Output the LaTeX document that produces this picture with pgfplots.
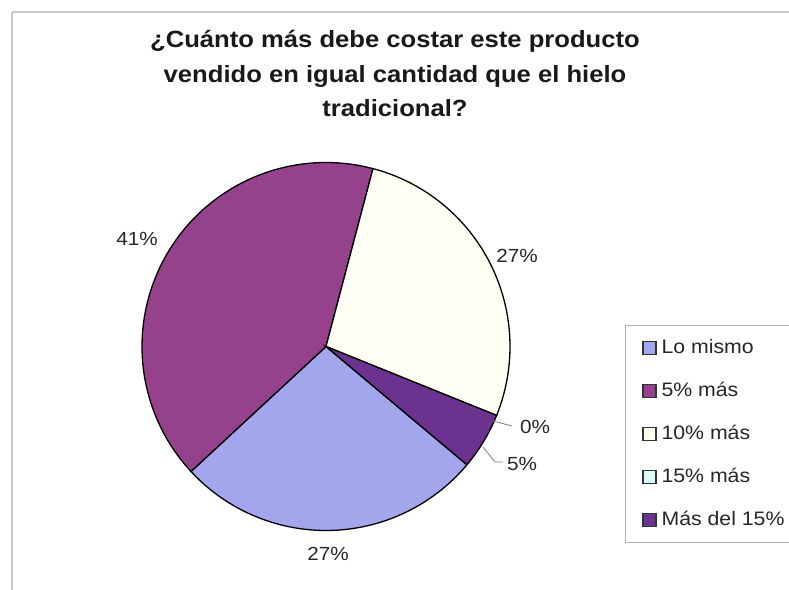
\documentclass[border=0pt]{standalone}
\usepackage{fontspec}
\setmainfont{Liberation Sans}[FakeStretch=1.09]
\usepackage{pgfplots}
\pgfplotsset{compat=1.18}
\definecolor{cA}{HTML}{A3A6EC}
\definecolor{cB}{HTML}{95418C}
\definecolor{cC}{HTML}{FFFFF4}
\definecolor{cD}{HTML}{DDFCFC}
\definecolor{cE}{HTML}{6C3290}
% values (percent)
\def\vA{27}\def\vB{41}\def\vC{27}\def\vD{0}\def\vE{5}
\pgfmathsetmacro\aA{-40}
\pgfmathsetmacro\aB{\aA-3.6*\vA}
\pgfmathsetmacro\aC{\aB-3.6*\vB}
\pgfmathsetmacro\aD{\aC-3.6*\vC}
\pgfmathsetmacro\aE{\aD-3.6*\vD}
\pgfmathsetmacro\aF{\aE-3.6*\vE}
\def\cx{326}\def\cy{243.5}\def\rr{184}
\begin{document}
\begin{tikzpicture}
\useasboundingbox (0,0) rectangle (789bp,590bp);
\begin{axis}[at={(0,0)}, anchor=south west, scale only axis,
  width=789bp, height=590bp, xmin=0, xmax=789, ymin=0, ymax=590,
  hide axis, clip=false,
  legend style={at={(axis cs:625,265)}, anchor=north west, draw=white, draw opacity=0, fill=none,
    inner xsep=17bp, inner ysep=14bp, row sep=25bp,
    column sep=0pt,
    font=\fontsize{19.5bp}{22bp}\selectfont,
    nodes={inner sep=0pt, text height=14bp, text depth=4bp, text=black!85}},
  legend cell align=left,
  legend image code/.code={\draw[#1, draw=black!80, draw opacity=1, line width=1.4bp] (0bp,-6bp) rectangle (13bp,7bp);},
]
\addplot[fill=cA, draw=black, line width=1.3bp, domain=\aB:\aA, samples=80, variable=\t]
  ({\cx+\rr*cos(t)},{\cy+\rr*sin(t)}) -- (axis cs:\cx,\cy) -- cycle;
\addlegendentry{\hspace{5bp}Lo mismo}
\addplot[fill=cB, draw=black, line width=1.3bp, domain=\aC:\aB, samples=100, variable=\t]
  ({\cx+\rr*cos(t)},{\cy+\rr*sin(t)}) -- (axis cs:\cx,\cy) -- cycle;
\addlegendentry{\hspace{5bp}5\% más}
\addplot[fill=cC, draw=black, line width=1.3bp, domain=\aD:\aC, samples=80, variable=\t]
  ({\cx+\rr*cos(t)},{\cy+\rr*sin(t)}) -- (axis cs:\cx,\cy) -- cycle;
\addlegendentry{\hspace{5bp}10\% más}
\addlegendimage{fill=cD}
\addlegendentry{\hspace{5bp}15\% más}
\addplot[fill=cE, draw=black, line width=1.3bp, domain=\aF:\aE, samples=30, variable=\t]
  ({\cx+\rr*cos(t)},{\cy+\rr*sin(t)}) -- (axis cs:\cx,\cy) -- cycle;
\addlegendentry{\hspace{5bp}Más del 15\%}
% legend frame (runs off the right edge of the picture)
\draw[black!30, line width=0.8bp] (axis cs:625,265) -- (axis cs:625,48);
\draw[black!30, line width=0.8bp] (axis cs:625,265) -- (axis cs:789,265);
\draw[black!30, line width=0.8bp] (axis cs:625,48) -- (axis cs:789,48);
% leader lines
\draw[black!50, line width=0.8bp] (axis cs:493,169) -- (axis cs:512,164);
\draw[black!50, line width=0.8bp] (axis cs:483,143) -- (axis cs:495,128) -- (axis cs:503,128);
% data labels
\begin{scope}[every node/.style={font=\fontsize{19bp}{22bp}\selectfont, text=black!85, inner sep=0pt}]
\node[anchor=base] at (axis cs:137,345) {41\%};
\node[anchor=base] at (axis cs:517,328) {27\%};
\node[anchor=base] at (axis cs:328,30) {27\%};
\node[anchor=base west] at (axis cs:520,157) {0\%};
\node[anchor=base west] at (axis cs:507,120) {5\%};
\end{scope}
% title
\begin{scope}[every node/.style={font=\fontsize{23.5bp}{28bp}\selectfont\bfseries, text=black!90, inner sep=0pt, anchor=base}]
\node at (axis cs:395,542) {¿Cuánto más debe costar este producto};
\node at (axis cs:395,507) {vendido en igual cantidad que el hielo};
\node at (axis cs:395,473) {tradicional?};
\end{scope}
% chart area border
\draw[black!22, line width=1.2bp] (axis cs:12,0) -- (axis cs:12,578);
\draw[black!22, line width=1.2bp] (axis cs:12,578) -- (axis cs:789,578);
\end{axis}
\end{tikzpicture}
\end{document}
